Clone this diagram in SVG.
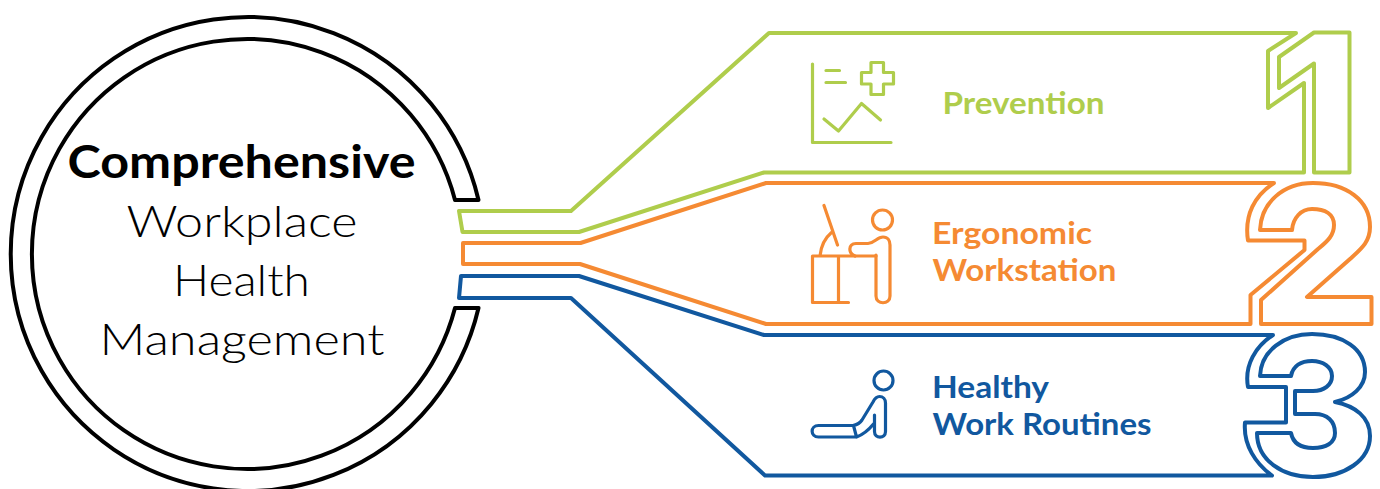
<svg xmlns="http://www.w3.org/2000/svg" width="1380" height="489" viewBox="0 0 1380 489">
<style>
.o{fill:none;stroke-width:4;stroke-linejoin:round;stroke-linecap:round}
.i{fill:none;stroke-width:3.2;stroke-linejoin:round;stroke-linecap:round}
.g{stroke:#afcd4c}.r{stroke:#f58a33}.b{stroke:#11589f}
.t{font-family:"Lato","Open Sans",sans-serif;font-weight:700;font-size:30px}
.c{font-family:"Lato","Open Sans",sans-serif;font-size:44px;font-weight:300;fill:#000;text-anchor:middle}
.h{font-size:45px;font-weight:700}
</style>
<rect width="1380" height="489" fill="#fff"/>
<g id="hub">
<path d="M478.500 200A237 237 0 1 0 478.500 308L455 308A215 215 0 1 1 455 200Z" fill="none" stroke="#000" stroke-width="4" stroke-linejoin="round"/>
<text class="c h" x="241.500" y="177.500" textLength="348" lengthAdjust="spacingAndGlyphs">Comprehensive</text>
<text class="c" x="242" y="236.500" textLength="231" lengthAdjust="spacingAndGlyphs">Workplace</text>
<text class="c" x="241.500" y="295.500" textLength="137" lengthAdjust="spacingAndGlyphs">Health</text>
<text class="c" x="242" y="354.500" textLength="285" lengthAdjust="spacingAndGlyphs">Management</text>
</g>
<g id="connectors">
<path class="o g" d="M459 211H571L769 33H1296L1268 51V108L1304 83V172.500H764L579 232H462.500Z"/>
<path class="o r" d="M463 243H580.500L766 183H1274C1255 195 1244 215 1248 240.500H1304.500V250L1250.500 295V324H766L580 264H463Z"/>
<path class="o b" d="M461 276H579L764 335H1273C1256 346 1244 365 1248 387H1286V422.500H1245C1243 445 1256 464 1272 475.500H765L571 298H459Z"/>
</g>
<g id="node-1">
<path class="o g" d="M1314 32.500H1349.500V172.500H1314V63.500L1279 88V57Z"/>
<g class="i g"><path d="M812.500 64V142.500H891M826 70.500H839.500M826 82.500H845.500M824 119L838.500 131L861.500 103.500L880.500 120"/>
<path d="M871 62.500H883.500V72.500H893.500V84H883.500V94.500H871V84H861.500V72.500H871Z"/></g>
<text class="t" x="942.500" y="114" fill="#afcd4c" textLength="162" lengthAdjust="spacingAndGlyphs">Prevention</text>
</g>
<g id="node-2">
<path class="o r" d="M1260 230C1261 203 1283 183 1313 183C1346 183 1370 200 1370 227C1370 242 1361 249 1350 259L1307 297H1371.500V324H1261V300L1318 249C1328 241 1334 235 1334 225C1334 214 1325 209 1312 209C1301 209 1293 218 1292 230Z"/>
<g class="i r"><circle cx="882.500" cy="220" r="10"/>
<path d="M824 205.500L837.500 245M820 256C821 245 825 238 831.500 232.500M812.500 302.500V256H876M812.500 302.500H848.500M838.500 256V302.500"/>
<path d="M855 256C848 253 848 244 856 243.500H868C875 243 877 237 883 237C888 237 890 241 890 245V296C890 305 876 305 876 296V255"/></g>
<text class="t" x="932" y="244" fill="#f58a33" textLength="160" lengthAdjust="spacingAndGlyphs">Ergonomic</text>
<text class="t" x="932.500" y="281" fill="#f58a33" textLength="184" lengthAdjust="spacingAndGlyphs">Workstation</text>
</g>
<g id="node-3">
<path class="o b" d="M1260 376C1261 351 1284 334 1312 334C1343 334 1365 349 1365 372C1365 387 1352 398 1335 402C1355 406 1370 417 1370 436C1370 460 1345 477 1313 477C1282 477 1257 460 1257 433H1291C1293 443 1301 448 1313 448C1326 448 1335 443 1335 433C1335 421 1327 414 1315 414H1295V391H1313C1324 391 1332 385 1332 376C1332 367 1323 361 1312 361C1301 361 1293 366 1291 376Z"/>
<g class="i b"><circle cx="883.500" cy="380.500" r="9.500"/>
<path d="M818.500 425.500H853.500C858 424.500 860 423 862 420L873 402C875 398 877 396.500 879.500 396.500C883 396.500 885.500 399 885.500 403V431.500C885.500 439 874.500 439 874.500 431.500V415M873.500 424C867 432 862 435 856.500 437H818.500C810 437 810 425.500 818.500 425.500M853.500 425.500L856.500 437"/></g>
<text class="t" x="932" y="398" fill="#11589f" textLength="117" lengthAdjust="spacingAndGlyphs">Healthy</text>
<text class="t" x="932.500" y="435" fill="#11589f" textLength="219" lengthAdjust="spacingAndGlyphs">Work Routines</text>
</g>
</svg>
